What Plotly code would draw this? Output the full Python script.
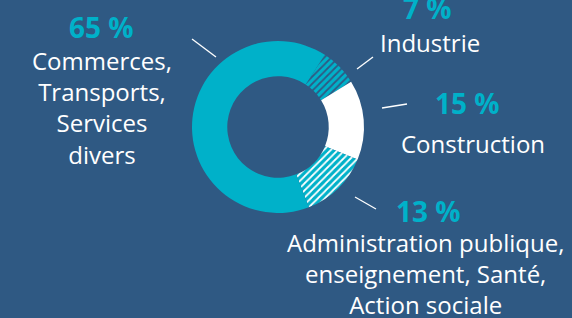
import plotly.graph_objects as go

# Data
categories = ["Industrie", "Construction",
              "Administration publique,<br>enseignement, Santé,<br>Action sociale",
              "Commerces,<br>Transports,<br>Services<br>divers"]
values = [7, 15, 13, 65]
pct_labels = ["7 %", "15 %", "13 %", "65 %"]

BG = "#2f5983"
CYAN = "#00b1c9"
WHITE = "#ffffff"

W, H = 572, 318

def px(x):
    return x / W

def py(y):
    return 1 - y / H

fig = go.Figure()
fig.add_trace(go.Pie(
    labels=categories,
    values=values,
    sort=False,
    direction="clockwise",
    rotation=33,
    hole=0.59,
    textinfo="none",
    hoverinfo="skip",
    showlegend=False,
    domain=dict(x=[px(192), px(364)], y=[py(213), py(41)]),
    marker=dict(
        colors=[CYAN, WHITE, CYAN, CYAN],
        line=dict(width=0),
        pattern=dict(
            shape=["/", "", "/", ""],
            fgcolor=[BG, WHITE, WHITE, CYAN],
            bgcolor=[CYAN, WHITE, CYAN, CYAN],
            size=5,
            solidity=0.35,
            fillmode="replace",
        ),
    ),
))

FONT = "Open Sans"
annotations = []
# label layout: (pct center x, pct center y, text block center x, text block center y)
layout_pos = [
    (427, 8, 430, 43),
    (467, 103, 473, 143),
    (428, 211, 425, 273),
    (101, 27, 102, 107),
]
for cat, pct, (pxc, pyc, tx, ty) in zip(categories, pct_labels, layout_pos):
    annotations.append(dict(
        x=px(pxc), y=py(pyc), xref="paper", yref="paper", text=f"<b>{pct}</b>",
        showarrow=False, xanchor="center", yanchor="middle",
        font=dict(family=FONT, size=28, color=CYAN)))
    annotations.append(dict(
        x=px(tx), y=py(ty), xref="paper", yref="paper", text=cat,
        showarrow=False, xanchor="center", yanchor="middle", align="center",
        font=dict(family=FONT, size=24, color=WHITE)))

leaders = [
    ((357, 69), (373, 57)),
    ((382, 108), (407, 104)),
    ((355, 197), (376, 209)),
    ((192, 39), (216, 57)),
]
shapes = [dict(type="line", xref="paper", yref="paper",
               x0=px(a[0]), y0=py(a[1]), x1=px(b[0]), y1=py(b[1]),
               line=dict(color=WHITE, width=1.3)) for a, b in leaders]

fig.update_layout(
    width=W, height=H,
    margin=dict(l=0, r=0, t=0, b=0),
    paper_bgcolor=BG, plot_bgcolor=BG,
    annotations=annotations,
    shapes=shapes,
)
fig.write_html("out.html", config={"displayModeBar": False})

# remove default page margin so the figure fills the window
with open("out.html", encoding="utf-8") as f:
    html = f.read()
html = html.replace("<head>", "<head><style>html,body{margin:0;padding:0;overflow:hidden;background:%s}</style>" % BG, 1)
with open("out.html", "w", encoding="utf-8") as f:
    f.write(html)
